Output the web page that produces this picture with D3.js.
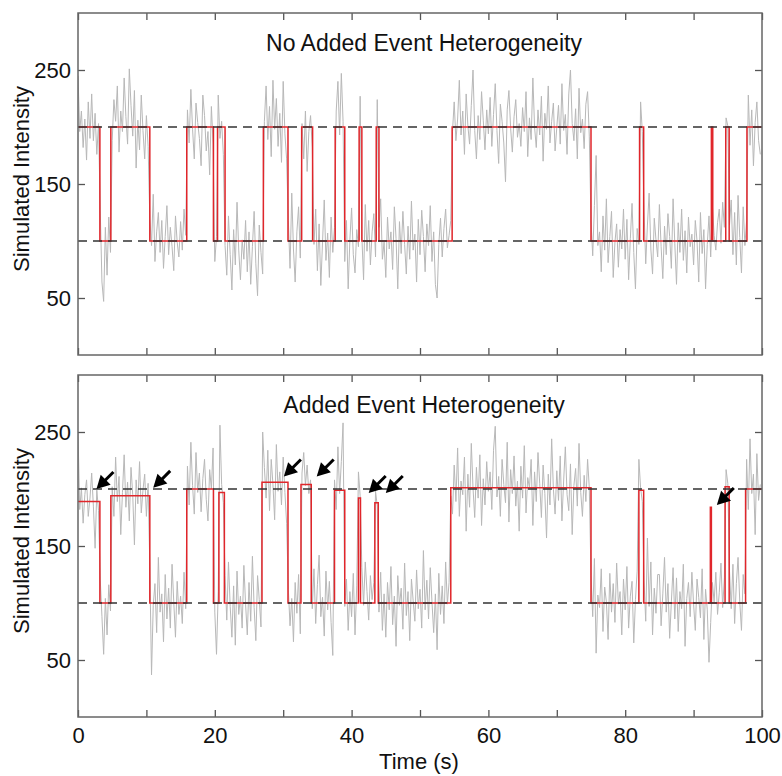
<!DOCTYPE html>
<html>
<head>
<meta charset="utf-8">
<script src="https://cdn.jsdelivr.net/npm/d3@7"></script>
<style>
  body { margin: 0; background: #fff; }
  text { font-family: "Liberation Sans", Arial, Helvetica, sans-serif; fill: #111; }
</style>
</head>
<body>
<div id="vis-container"></div>
<script>
// sampling interval of the traces (s)
var dt = 0.25;

// gray trace, top panel (one value every 0.25 s, 20 values per row = 5 s)
var topTrace = [
  245,196,214,182,207,171,222,190,229,188,212,176,203,128,64,47,112,70,121,90,
  188,224,205,236,178,214,196,243,209,185,251,219,192,232,164,206,180,228,197,172,
  210,183,120,96,141,82,108,125,90,118,76,104,131,88,112,95,74,122,99,86,
  117,92,128,105,215,186,233,198,172,221,204,190,166,228,210,179,196,158,218,185,
  82,104,228,190,205,176,96,70,122,88,57,110,79,134,92,66,101,84,118,73,
  108,62,95,126,80,52,114,90,71,205,236,189,218,174,241,198,225,183,212,169,
  240,194,172,118,76,142,93,64,108,130,85,203,172,214,161,196,210,182,97,128,
  74,115,61,99,136,83,107,68,121,90,112,214,240,193,247,205,82,118,58,101,
  129,88,72,110,95,227,104,66,132,91,118,79,108,124,86,224,112,137,84,99,
  68,121,93,108,75,130,102,58,117,89,126,97,71,113,84,135,92,106,64,119,
  88,127,104,73,115,96,131,82,108,62,50,97,120,86,111,128,94,105,118,196,
  222,188,207,241,193,214,176,229,201,185,219,250,197,172,210,189,231,206,180,215,
  194,226,183,211,238,197,168,220,205,186,152,215,232,199,178,209,224,191,203,183,
  217,196,231,174,208,189,243,200,182,215,193,227,170,212,198,236,186,205,221,179,
  200,219,185,238,197,211,176,229,250,203,188,216,172,234,195,207,181,220,231,192,
  118,87,131,175,96,108,73,122,92,137,81,104,126,68,99,115,77,110,93,128,
  84,119,66,102,133,90,58,111,97,222,196,128,80,114,142,93,71,120,101,86,
  132,95,67,113,88,124,104,76,137,98,62,116,90,128,83,109,72,121,95,106,
  79,118,100,64,125,89,110,58,97,122,86,131,105,92,116,128,98,134,112,208,
  201,114,136,88,125,79,140,103,72,130,96,118,228,184,215,166,204,222,188,176
];

// gray trace, bottom panel
var bottomTrace = [
  250,182,201,170,195,208,176,192,214,185,148,199,181,121,88,55,104,72,116,93,
  202,176,228,189,211,160,197,230,184,206,172,219,195,151,208,187,224,179,199,213,
  176,205,132,37,98,117,74,140,92,108,66,125,86,113,78,134,101,70,119,90,
  106,82,127,95,220,186,241,203,178,232,197,214,180,209,226,191,172,217,200,236,
  92,55,110,256,204,188,124,85,136,97,70,115,63,128,90,106,78,133,99,72,
  118,84,141,96,67,124,103,79,250,219,192,234,181,226,204,173,239,198,215,186,
  228,197,170,112,80,104,66,118,91,125,73,214,232,203,221,196,208,95,130,82,
  116,142,88,105,71,128,94,119,83,54,208,182,237,196,224,258,97,121,76,110,
  88,126,72,115,215,194,131,98,136,110,85,124,103,118,198,185,92,127,76,108,
  70,118,94,132,81,106,62,124,98,113,77,135,89,110,67,121,102,84,129,95,
  112,78,146,94,120,86,131,101,74,108,59,126,90,115,82,136,99,118,194,178,
  221,189,236,176,207,195,228,163,213,184,240,201,175,219,192,230,168,209,186,224,
  198,215,182,234,255,193,211,176,226,204,188,241,171,217,196,229,185,207,163,220,
  192,238,179,210,201,226,168,215,189,232,205,175,221,196,157,213,186,244,200,178,
  216,190,229,172,207,237,195,181,222,160,203,218,185,240,197,176,212,189,226,201,
  124,88,139,56,107,96,130,75,114,101,68,126,92,117,83,135,99,110,72,121,
  94,132,78,106,119,65,103,128,226,201,189,120,84,157,97,136,72,113,91,125,
  125,80,108,140,92,117,69,101,131,86,122,75,110,95,134,62,104,118,88,127,
  99,76,121,105,87,130,68,112,94,48,83,118,101,127,90,109,135,96,122,217,
  205,128,95,134,82,117,140,101,76,125,108,226,182,244,196,213,160,231,190,204
];

// idealized (red) step fits: change times (s) and levels
var topStepTimes  = [0,3.2,4.8,10.5,15.9,19.8,20.4,21.5,27.1,30.7,32.7,34.3,37.6,39.0,41.1,41.5,43.6,44.0,54.7,75.0,82.1,82.7,92.6,92.8,94.7,95.2,97.8];
var topStepLevels = [200,100,200,100,200,100,200,100,200,100,200,100,200,100,200,100,200,100,200,100,200,100,200,100,200,100,200];

var bottomStepTimes  = [0,3.2,4.8,10.5,15.9,19.8,20.6,21.4,26.9,30.7,32.6,34.1,37.5,39.0,41.0,41.3,43.4,43.9,54.5,75.0,82.0,82.7,92.45,92.6,94.6,95.2,97.6];
var bottomStepLevels = [189,100,194,100,200,100,197,100,206,100,204,100,199,100,192,100,188,100,201,100,199,100,184,100,202,100,200];

// reference levels (dashed) and arrow tips (time, intensity)
var refLevels = [100, 200];
var arrowTimes  = [2.7, 11.0, 30.1, 34.9, 42.5, 45.0, 93.4];
var arrowValues = [200, 201, 211, 211, 196.5, 196.5, 186];

var yTicks = [50, 150, 250];
var titles = ["No Added Event Heterogeneity", "Added Event Heterogeneity"];

var width = 782, height = 776;
var svg = d3.select("#vis-container").append("svg")
    .attr("width", width).attr("height", height);

var x = d3.scaleLinear().domain([0, 100]).range([78, 762]);

var panels = [
  { top: 13,  bottom: 355, trace: topTrace,    times: topStepTimes,    levels: topStepLevels,    title: titles[0], arrows: false, xlabels: false },
  { top: 375, bottom: 717, trace: bottomTrace, times: bottomStepTimes, levels: bottomStepLevels, title: titles[1], arrows: true,  xlabels: true }
];

panels.forEach(function(p) {
  var y = d3.scaleLinear().domain([0, 300]).range([p.bottom, p.top]);
  var g = svg.append("g");

  // clip for the data
  var clipId = "clip" + p.top;
  g.append("clipPath").attr("id", clipId)
    .append("rect").attr("x", 78).attr("y", p.top).attr("width", 684).attr("height", p.bottom - p.top);

  var traceLine = d3.line()
      .x(function(d, i) { return x(i * dt); })
      .y(function(d) { return y(d); });

  g.append("path")
    .datum(p.trace)
    .attr("clip-path", "url(#" + clipId + ")")
    .attr("fill", "none")
    .attr("stroke", "#b8b8b8")
    .attr("stroke-width", 1)
    .attr("d", traceLine);

  var steps = p.times.map(function(t, i) { return [t, p.levels[i]]; });
  steps.push([100, p.levels[p.levels.length - 1]]);

  g.append("path")
    .datum(steps)
    .attr("fill", "none")
    .attr("stroke", "#e0262b")
    .attr("stroke-width", 1.5)
    .attr("d", d3.line().curve(d3.curveStepAfter)
      .x(function(d) { return x(d[0]); })
      .y(function(d) { return y(d[1]); }));

  g.selectAll(".ref")
    .data(refLevels)
    .enter().append("line")
    .attr("x1", x(0)).attr("x2", x(100))
    .attr("y1", function(d) { return y(d); })
    .attr("y2", function(d) { return y(d); })
    .attr("stroke", "#333")
    .attr("stroke-width", 1.3)
    .attr("stroke-dasharray", "9,6");

  // axes, ticks inward
  var left = g.append("g").attr("transform", "translate(78,0)")
    .call(d3.axisLeft(y).tickValues(yTicks).tickSize(-7).tickPadding(7));
  var right = g.append("g").attr("transform", "translate(762,0)")
    .call(d3.axisRight(y).tickValues(yTicks).tickSize(-7).tickFormat(""));
  var top = g.append("g").attr("transform", "translate(0," + p.top + ")")
    .call(d3.axisTop(x).tickValues(d3.range(0, 101, 10)).tickSize(-7).tickFormat(""));
  var bottom = g.append("g").attr("transform", "translate(0," + p.bottom + ")")
    .call(d3.axisBottom(x).tickValues(d3.range(0, 101, 10)).tickSize(-7).tickPadding(10)
      .tickFormat(function(d) { return (p.xlabels && d % 20 === 0) ? d : ""; }));

  [left, right, top, bottom].forEach(function(a) {
    a.select(".domain").remove();
    a.selectAll(".tick line").attr("stroke", "#555").attr("stroke-width", 1.3);
    a.selectAll("text").attr("font-size", 22).attr("fill", "#111")
      .style("font-family", "'Liberation Sans', Arial, sans-serif");
  });

  g.append("rect")
    .attr("x", 78).attr("y", p.top)
    .attr("width", 684).attr("height", p.bottom - p.top)
    .attr("fill", "none").attr("stroke", "#666").attr("stroke-width", 1.5);

  g.append("text")
    .attr("x", 424).attr("y", p.top + 38)
    .attr("text-anchor", "middle")
    .attr("font-size", 23)
    .text(p.title);

  g.append("text")
    .attr("transform", "translate(29," + ((p.top + p.bottom) / 2 - 5) + ") rotate(-90)")
    .attr("text-anchor", "middle")
    .attr("font-size", 22)
    .text("Simulated Intensity");

  if (p.arrows) {
    arrowTimes.forEach(function(t, i) {
      var tx = x(t), ty = y(arrowValues[i]);
      var u = Math.SQRT1_2;
      var headLen = 13, headHalf = 7, len = 24;
      var bx = tx + u * headLen, by = ty - u * headLen;
      g.append("line")
        .attr("x1", tx + u * len).attr("y1", ty - u * len)
        .attr("x2", bx - u * 1).attr("y2", by + u * 1)
        .attr("stroke", "#000").attr("stroke-width", 3);
      g.append("path")
        .attr("d", "M" + tx + "," + ty +
          "L" + (bx + u * headHalf) + "," + (by + u * headHalf) +
          "L" + (bx - u * headHalf) + "," + (by - u * headHalf) + "Z")
        .attr("fill", "#000");
    });
  }
});

svg.append("text")
  .attr("x", 419).attr("y", 769)
  .attr("text-anchor", "middle")
  .attr("font-size", 22)
  .text("Time (s)");
</script>
</body>
</html>
